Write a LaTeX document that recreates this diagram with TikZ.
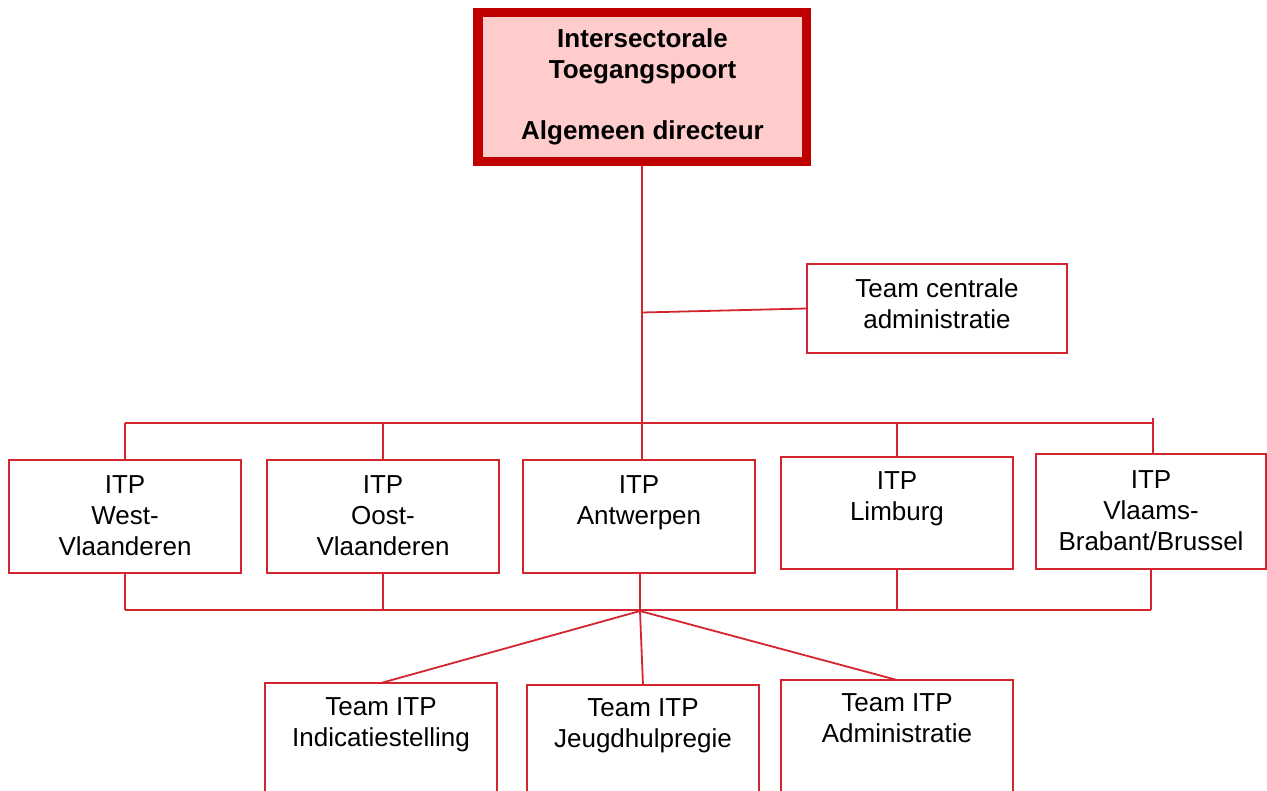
\documentclass[tikz,border=0pt]{standalone}
\usepackage{fontspec}
\setmainfont{Liberation Sans}
\definecolor{lc}{RGB}{212,36,46}
\definecolor{topborder}{RGB}{192,0,0}
\definecolor{topfill}{RGB}{255,204,204}
\begin{document}
\begin{tikzpicture}[x=1pt,y=-1pt,
  box/.style={draw=lc, line width=1.8pt, inner sep=0pt, outer sep=0pt, anchor=north west},
  txt/.style={align=center, inner sep=0pt, anchor=base, font=\fontsize{26}{31}\selectfont},
  ln/.style={draw=lc, line width=1.8pt}]
\useasboundingbox (0,0) rectangle (1267,791);
\clip (0,0) rectangle (1267,791);
% top box (outer sep = half line width, so the anchor is on the outer edge)
\node[draw=topborder, fill=topfill, line width=9.5pt, inner sep=0pt, anchor=north west,
      minimum width=328.5pt, minimum height=149pt] (top) at (473.25,7.75) {};
\node[align=center, inner sep=0pt, anchor=base, font=\fontsize{26}{30.5}\selectfont\bfseries]
  (topt) at (642.5,139.2) {Intersectorale\\Toegangspoort\\[30.5pt]Algemeen directeur};
% team centrale administratie
\node[box, minimum width=260pt, minimum height=89pt] (tca) at (807,264) {};
\node[txt] (tcat) at ([yshift=-64.5pt]tca.north) {Team centrale\\administratie};
% ITP row
\node[box, minimum width=232pt, minimum height=113pt] (w) at (9,460) {};
\node[box, minimum width=232pt, minimum height=113pt] (o) at (267,460) {};
\node[box, minimum width=232pt, minimum height=113pt] (a) at (523,460) {};
\node[box, minimum width=232pt, minimum height=112pt] (l) at (781,457) {};
\node[box, minimum width=230pt, minimum height=115pt] (v) at (1036,454) {};
\node[txt] (wt) at ([yshift=-95pt]w.north) {ITP\\West-\\Vlaanderen};
\node[txt] (ot) at ([yshift=-95pt]o.north) {ITP\\Oost-\\Vlaanderen};
\node[txt] (at) at ([yshift=-64pt]a.north) {ITP\\Antwerpen};
\node[txt] (lt) at ([yshift=-63.5pt]l.north) {ITP\\Limburg};
\node[txt] (vt) at ([yshift=-96pt]v.north) {ITP\\Vlaams-\\Brabant/Brussel};
% bottom teams
\node[box, minimum width=232pt, minimum height=130pt] (ind) at (265,683) {};
\node[box, minimum width=232pt, minimum height=130pt] (jeu) at (527,685) {};
\node[box, minimum width=232pt, minimum height=130pt] (adm) at (781,680) {};
\node[txt] (indt) at ([yshift=-63pt]ind.north) {Team ITP\\Indicatiestelling};
\node[txt] (jeut) at ([yshift=-62pt]jeu.north) {Team ITP\\Jeugdhulpregie};
\node[txt] (admt) at ([yshift=-62pt]adm.north) {Team ITP\\Administratie};
% junction coordinates
\coordinate (j1) at (642.5,312.5);
\coordinate (bus) at (124,423);
\coordinate (busend) at (1153,418);
\coordinate (bb) at (124,610);
\coordinate (fan) at (640,611);
% connectors
\draw[ln] (top.south) -- (top.south |- a.north);
\draw[ln] (j1) -- (tca.west);
\draw[ln] (w.north |- bus) -- (busend |- bus);
\draw[ln] (busend) -- (busend |- v.north);
\draw[ln] (w.north |- bus) -- (w.north);
\draw[ln] (o.north |- bus) -- (o.north);
\draw[ln] (l.north |- bus) -- (l.north);
\draw[ln] (w.south) -- (w.south |- bb);
\draw[ln] (o.south) -- (o.south |- bb);
\draw[ln] (l.south) -- (l.south |- bb);
\draw[ln] (v.south) -- (v.south |- bb);
\draw[ln] (w.south |- bb) -- (v.south |- bb);
\draw[ln] (a.south -| fan) -- (fan);
\draw[ln] (fan) -- (ind.north);
\draw[ln] (fan) -- (jeu.north);
\draw[ln] (fan) -- (adm.north);
\end{tikzpicture}
\end{document}
